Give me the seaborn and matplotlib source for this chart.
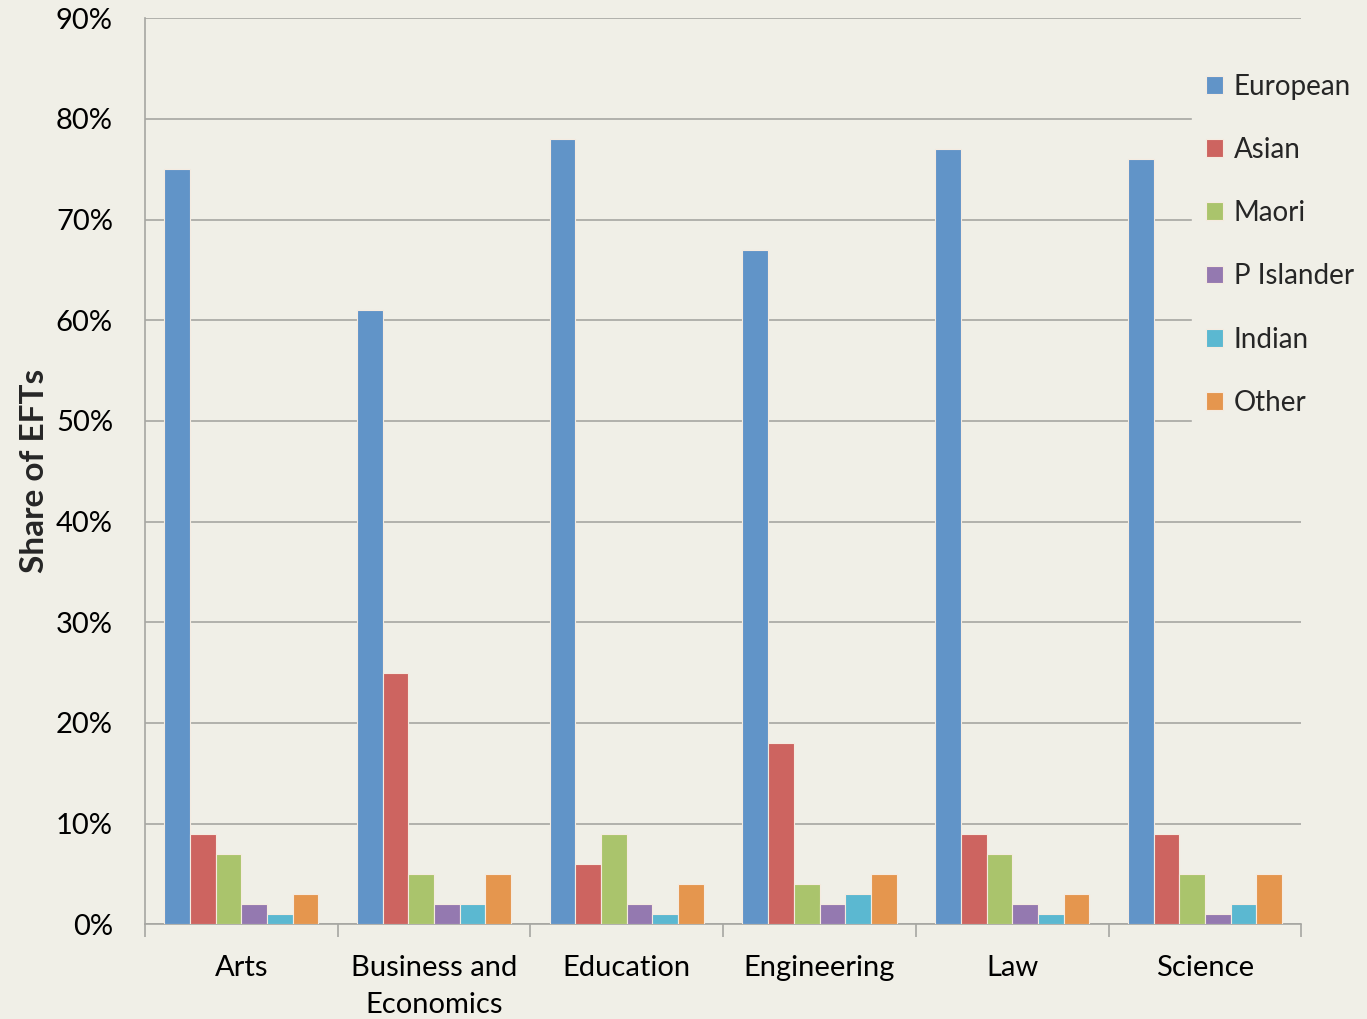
import pandas as pd
import matplotlib.pyplot as plt
import seaborn as sns
from matplotlib.ticker import PercentFormatter, FixedLocator

faculties = ['Arts', 'Business and\nEconomics', 'Education', 'Engineering', 'Law', 'Science']
groups = ['European', 'Asian', 'Maori', 'P Islander', 'Indian', 'Other']

european = [75, 61, 78, 67, 77, 76]
asian = [9, 25, 6, 18, 9, 9]
maori = [7, 5, 9, 4, 7, 5]
p_islander = [2, 2, 2, 2, 2, 1]
indian = [1, 2, 1, 3, 1, 2]
other = [3, 5, 4, 5, 3, 5]

colors = ['#6194C8', '#CD6460', '#AAC46C', '#9479B0', '#5BB8D1', '#E5964E']
bg = '#F0EFE7'
grid_col = '#A6A6A2'

rows = []
for g, vals in zip(groups, [european, asian, maori, p_islander, indian, other]):
    for f, v in zip(faculties, vals):
        rows.append({'Faculty': f, 'Group': g, 'Share': v})
df = pd.DataFrame(rows)

sns.set_theme(style="white")
plt.rcParams['font.family'] = ['Lato', 'DejaVu Sans']

fig = plt.figure(figsize=(13.67, 10.19), dpi=100, facecolor=bg)
ax = fig.add_axes([0.106, 0.093, 0.846, 0.889])
ax.set_facecolor(bg)

sns.barplot(data=df, x='Faculty', y='Share', hue='Group', order=faculties,
            hue_order=groups, palette=colors, width=0.8, saturation=1,
            edgecolor='#F5EBE0', linewidth=0.8, ax=ax, zorder=3)

ax.set_ylim(0, 90)
ax.set_xlim(-0.5, 5.5)
ax.set_yticks(range(0, 91, 10))
ax.yaxis.set_major_formatter(PercentFormatter(decimals=0))
ax.grid(axis='y', color=grid_col, linewidth=1.2, zorder=0)
ax.set_axisbelow(True)

for s in ['top', 'right']:
    ax.spines[s].set_visible(False)
for s in ['left', 'bottom']:
    ax.spines[s].set_color(grid_col)
    ax.spines[s].set_linewidth(1.2)

# tick marks between the faculty groups
ax.xaxis.set_minor_locator(FixedLocator([i - 0.5 for i in range(7)]))
ax.tick_params(axis='x', which='major', length=0, pad=22, labelsize=21)
ax.tick_params(axis='x', which='minor', length=9, color=grid_col, width=1.2, direction='out')
ax.tick_params(axis='y', length=8, color=grid_col, width=1.2, labelsize=21, pad=15)
ax.tick_params(axis='both', labelcolor='black')
ax.xaxis.set_tick_params(bottom=True, which='both')
for lab in ax.get_xticklabels():
    lab.set_linespacing(1.55)

ax.set_xlabel('')
ax.set_ylabel('Share of EFTs', fontsize=24, fontweight='bold', labelpad=5)

ax.legend(loc='upper left', bbox_to_anchor=(0.862, 0.955), bbox_transform=fig.transFigure,
          frameon=True, facecolor=bg, edgecolor=bg, framealpha=1, fontsize=20,
          handlelength=0.6, handleheight=0.6, handletextpad=0.4,
          labelspacing=1.34, borderpad=0.5, fancybox=False)

fig.savefig('out.png', dpi=100, facecolor=bg)
